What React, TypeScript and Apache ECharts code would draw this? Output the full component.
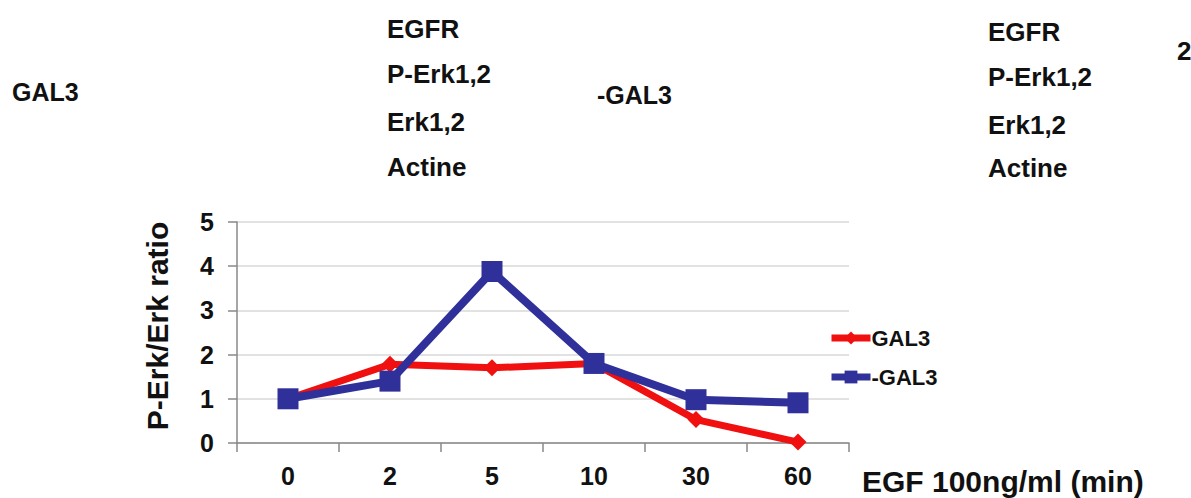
import React, { useEffect, useRef } from "react";
import * as echarts from "echarts";

const categories = ["0", "2", "5", "10", "30", "60"];
const gal3Values = [1.0, 1.78, 1.7, 1.8, 0.53, 0.02];
const minusGal3Values = [1.0, 1.4, 3.88, 1.8, 0.98, 0.91];
const seriesNames = ["GAL3", "-GAL3"];
const yTicks = { min: 0, max: 5, interval: 1 };

const FONT = "'Liberation Sans', Arial, sans-serif";

export default function App() {
  const ref = useRef<HTMLDivElement>(null);
  useEffect(() => {
    if (!ref.current) return;
    const chart = echarts.init(ref.current, undefined, { renderer: "svg" });
    const txt = (text: string, x: number, y: number, size = 26, rot = 0) => ({
      type: "text",
      x,
      y,
      rotation: rot,
      style: {
        text,
        fontFamily: FONT,
        fontWeight: "bold",
        fontSize: size,
        fill: "#111",
        verticalAlign: "middle",
        align: rot ? "center" : "left",
      },
    });
    chart.setOption({
      animation: false,
      backgroundColor: "#fff",
      textStyle: { fontFamily: FONT },
      grid: { left: 237, right: 342, top: 222, bottom: 55, containLabel: false },
      legend: {
        orient: "vertical",
        left: 828,
        top: 327,
        padding: 0,
        itemWidth: 39,
        itemHeight: 16,
        itemGap: 17,
        data: seriesNames,
        lineStyle: { width: 7 },
        textStyle: {
          fontFamily: FONT,
          fontWeight: "bold",
          fontSize: 22,
          lineHeight: 16,
          color: "#111",
          padding: [0, 0, 0, -4],
        },
      },
      xAxis: {
        type: "category",
        data: categories,
        boundaryGap: true,
        axisLine: { lineStyle: { color: "#888", width: 1.5 } },
        axisTick: { show: true, length: 9, lineStyle: { color: "#888", width: 1.5 } },
        axisLabel: { fontFamily: FONT, fontWeight: "bold", fontSize: 25, color: "#111", margin: 20 },
        splitLine: { show: false },
      },
      yAxis: {
        type: "value",
        min: yTicks.min,
        max: yTicks.max,
        interval: yTicks.interval,
        axisLine: { show: true, lineStyle: { color: "#888", width: 1.5 } },
        axisTick: { show: true, length: 9, lineStyle: { color: "#888", width: 1.5 } },
        axisLabel: { fontFamily: FONT, fontWeight: "bold", fontSize: 25, color: "#111", margin: 23 },
        splitLine: { show: true, lineStyle: { color: "#d9d9d9", width: 1.5 } },
      },
      series: [
        {
          name: seriesNames[0],
          type: "line",
          data: gal3Values,
          symbol: "diamond",
          symbolSize: 17,
          lineStyle: { color: "#f01010", width: 7 },
          itemStyle: { color: "#f01010" },
          z: 2,
        },
        {
          name: seriesNames[1],
          type: "line",
          data: minusGal3Values,
          symbol: "rect",
          symbolSize: 21,
          lineStyle: { color: "#30309a", width: 8 },
          itemStyle: { color: "#30309a" },
          z: 3,
        },
      ],
      graphic: [
        txt("GAL3", 12, 92, 25),
        txt("EGFR", 387, 29, 26),
        txt("P-Erk1,2", 387, 74, 26),
        txt("Erk1,2", 387, 122, 26),
        txt("Actine", 387, 167, 26),
        txt("-GAL3", 597, 95, 25),
        txt("EGFR", 988, 32, 26),
        txt("P-Erk1,2", 988, 77, 26),
        txt("Erk1,2", 988, 125, 26),
        txt("Actine", 988, 168, 26),
        txt("2", 1177, 51, 26),
        txt("P-Erk/Erk ratio", 157, 326, 30, Math.PI / 2),
        txt("EGF 100ng/ml (min)", 862, 481, 30),
      ],
    });
    return () => chart.dispose();
  }, []);
  return <div ref={ref} style={{ width: 1191, height: 498, position: "absolute", left: 0, top: 0 }} />;
}
